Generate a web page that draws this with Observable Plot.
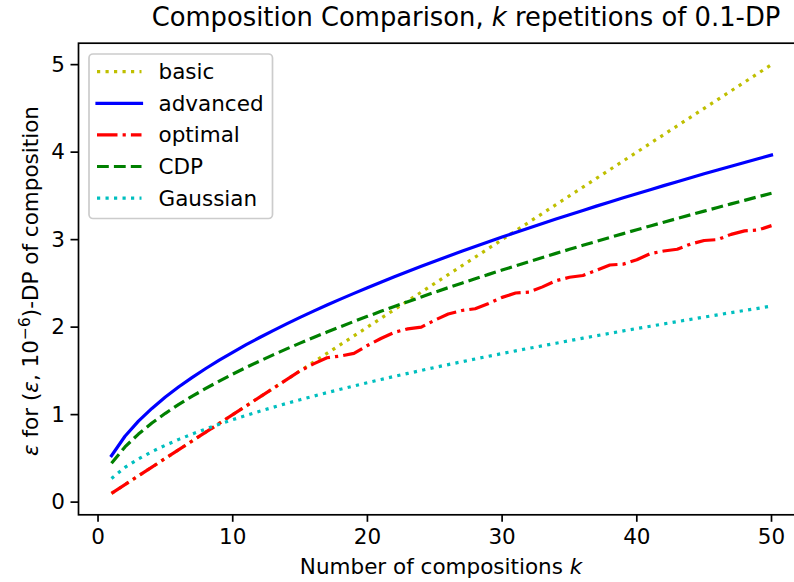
<!DOCTYPE html>
<html><head><meta charset="utf-8">
<script src="https://cdn.jsdelivr.net/npm/d3@7"></script>
<script src="https://cdn.jsdelivr.net/npm/@observablehq/plot@0.6"></script>
<style>
body{margin:0;background:#fff;overflow:hidden}
#wrap{position:relative;width:794px;height:582px;overflow:hidden;font-family:"DejaVu Sans";color:#000;background:#fff}
.ov{position:absolute;white-space:nowrap;line-height:1;font-family:"DejaVu Sans";color:#000}
</style></head><body><div id="wrap"></div>
<script>
const ks = [1,2,3,4,5,6,7,8,9,10,11,12,13,14,15,16,17,18,19,20,21,22,23,24,25,26,27,28,29,30,31,32,33,34,35,36,37,38,39,40,41,42,43,44,45,46,47,48,49,50];
const basic = [0.1,0.2,0.3,0.4,0.5,0.6,0.7,0.8,0.9,1.0,1.1,1.2,1.3,1.4,1.5,1.6,1.7,1.8,1.9,2.0,2.1,2.2,2.3,2.4,2.5,2.6,2.7,2.8,2.9,3.0,3.1,3.2,3.3,3.4,3.5,3.6,3.7,3.8,3.9,4.0,4.1,4.2,4.3,4.4,4.5,4.6,4.7,4.8,4.9,5.0];
const advanced = [0.531,0.753,0.926,1.071,1.201,1.318,1.426,1.527,1.622,1.712,1.799,1.881,1.960,2.037,2.111,2.183,2.253,2.320,2.386,2.451,2.514,2.576,2.636,2.695,2.754,2.811,2.867,2.922,2.976,3.029,3.082,3.134,3.185,3.235,3.285,3.334,3.383,3.431,3.478,3.525,3.571,3.617,3.662,3.707,3.752,3.796,3.839,3.882,3.925,3.967];
const optimal = [0.1,0.2,0.3,0.4,0.5,0.6,0.7,0.8,0.9,1.0,1.1,1.2,1.3,1.4,1.5,1.58,1.65,1.67,1.70,1.79,1.87,1.94,1.98,2.00,2.08,2.15,2.19,2.21,2.27,2.34,2.39,2.40,2.46,2.53,2.57,2.59,2.65,2.71,2.72,2.77,2.84,2.87,2.89,2.95,2.99,3.00,3.06,3.10,3.11,3.16];
const cdp = [0.443,0.631,0.778,0.904,1.015,1.117,1.211,1.299,1.383,1.463,1.539,1.612,1.683,1.751,1.817,1.881,1.944,2.005,2.065,2.123,2.180,2.236,2.291,2.345,2.399,2.451,2.502,2.553,2.603,2.652,2.701,2.749,2.796,2.843,2.889,2.935,2.980,3.025,3.069,3.113,3.156,3.199,3.242,3.284,3.326,3.367,3.409,3.449,3.490,3.530];
const gaussian = [0.270,0.396,0.494,0.577,0.650,0.717,0.779,0.836,0.890,0.942,0.991,1.038,1.084,1.128,1.170,1.211,1.251,1.290,1.328,1.365,1.401,1.437,1.471,1.505,1.539,1.572,1.604,1.636,1.667,1.698,1.728,1.758,1.787,1.816,1.845,1.874,1.902,1.929,1.957,1.984,2.010,2.037,2.063,2.089,2.115,2.140,2.166,2.190,2.215,2.240];
const seriesNames = ["basic","advanced","optimal","CDP","Gaussian"];
const xTicks = [0,10,20,30,40,50];
const yTicks = [0,1,2,3,4,5];
const titleText = "Composition Comparison, <i>k</i> repetitions of 0.1-DP";
const xLabel = "Number of compositions <i>k</i>";
const yLabel = "<i>ε</i> for (<i>ε</i>, 10<span style=\"font-size:0.72em;position:relative;top:-0.55em\">−6</span>)-DP of composition";

const colors = ["#bfbf00","#0000ff","#ff0000","#008000","#00bfbf"];
const LW = 3.2;
const dashes = ["3.2,5.3", "none", "20.5,5.1,3.2,5.1", "11.8,5.1", "3.2,5.3"];
const FS = 21.5;

const seriesValues = [basic, advanced, optimal, cdp, gaussian];
const rows = seriesValues.flatMap((vals, i) => vals.map((v, j) => ({k: ks[j], v, s: seriesNames[i]})));

const lineMarks = seriesNames.map((name, i) => Plot.line(rows.filter(r => r.s === name), {
  x: "k", y: "v", stroke: colors[i], strokeWidth: LW,
  strokeDasharray: dashes[i] === "none" ? undefined : dashes[i],
  strokeLinecap: i === 1 ? "square" : "butt", strokeLinejoin: "round"
}));

const chart = Plot.plot({
  width: 794, height: 582,
  marginTop: 42.7, marginBottom: 67.7, marginLeft: 78, marginRight: -10,
  x: {domain: [-1.45, 52.45]},
  y: {domain: [-0.145, 5.245]},
  style: {fontFamily: "DejaVu Sans", fontSize: FS + "px", color: "black", background: "white", overflow: "hidden"},
  marks: [
    ...lineMarks,
    Plot.frame({stroke: "black", strokeWidth: 1.7}),
    Plot.axisX(xTicks, {tickSize: 7.5, tickPadding: 6, fontSize: FS, strokeWidth: 1.7, label: null, tickFormat: d3.format("d")}),
    Plot.axisY(yTicks, {tickSize: 7.5, tickPadding: 6, fontSize: FS, strokeWidth: 1.7, label: null, tickFormat: d3.format("d")})
  ]
});
const wrap = document.getElementById("wrap");
chart.style.position = "absolute"; chart.style.left = "0"; chart.style.top = "0";
wrap.appendChild(chart);

function ov(html, css) {
  const d = document.createElement("div");
  d.className = "ov"; d.innerHTML = html;
  Object.assign(d.style, css);
  wrap.appendChild(d);
  return d;
}
ov(titleText, {left: "466px", top: "18px", fontSize: "25.8px", transform: "translate(-50%,-50%)"});
ov(xLabel, {left: "441px", top: "567px", fontSize: FS + "px", transform: "translate(-50%,-50%)"});
ov(yLabel, {left: "31px", top: "281px", fontSize: FS + "px", transform: "translate(-50%,-50%) rotate(-90deg)"});

// legend (inside axes, upper left)
const lg = d3.select(wrap).append("svg")
  .attr("width", 794).attr("height", 582)
  .style("position", "absolute").style("left", 0).style("top", 0);
lg.append("rect").attr("x", 89).attr("y", 54).attr("width", 183.5).attr("height", 164.5)
  .attr("rx", 4).attr("fill", "white").attr("fill-opacity", 0.8)
  .attr("stroke", "#cccccc").attr("stroke-width", 1.7);
seriesNames.forEach((name, i) => {
  const y = 71.7 + i * 31.6;
  lg.append("line").attr("x1", 97).attr("x2", 141.5).attr("y1", y).attr("y2", y)
    .attr("stroke", colors[i]).attr("stroke-width", LW)
    .attr("stroke-dasharray", dashes[i] === "none" ? null : dashes[i])
    .attr("stroke-linecap", i === 1 ? "square" : "butt");
  lg.append("text").attr("x", 158.5).attr("y", y).attr("dy", "0.35em")
    .attr("font-family", "DejaVu Sans").attr("font-size", FS).attr("fill", "black")
    .text(name);
});
</script></body></html>
